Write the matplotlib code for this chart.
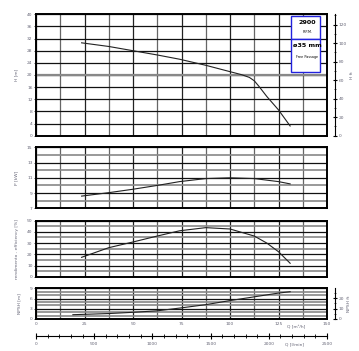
import matplotlib
matplotlib.use("Agg")
import matplotlib.pyplot as plt
import numpy as np

# curve data (Q in m3/h)
q_head = [23.5, 37.5, 50, 62.5, 74, 87.5, 100, 106, 110, 112.5, 115, 119, 125, 131]
head = [30.6, 29.4, 28.0, 26.6, 25.2, 23.2, 21.1, 20.1, 19.2, 18.1, 16.2, 12.9, 8.5, 3.2]

q_power = [23.5, 37.5, 50, 62.5, 74, 87.5, 100, 112.5, 125, 131]
power = [8.6, 9.05, 9.5, 10.0, 10.5, 10.9, 11.0, 10.9, 10.5, 10.2]

q_eff = [23.5, 37.5, 50, 62.5, 74, 87.5, 100, 112.5, 119, 125, 131]
eff = [17.3, 25.9, 31.0, 36.3, 41.0, 43.8, 42.6, 36.3, 30.0, 22.3, 12.0]

q_npsh = [19, 37.5, 50, 62.5, 74, 87.5, 100, 112.5, 125, 131]
npsh = [1.26, 1.6, 1.96, 2.4, 3.2, 4.2, 5.4, 6.5, 7.6, 8.0]

q_ticks = [0, 25, 50, 75, 100, 125, 150]
lmin_ticks = [0, 500, 1000, 1500, 2000, 2500]

M_TO_FT = 3.281
TCOL = "#666677"
FS = 3.2

fig = plt.figure(figsize=(3.59, 3.51), dpi=100)
L, W = 36 / 359, 291 / 359


def panel(y_top, y_bot, ylim, major, minor_step, ylabel, gray_extra=None):
    ax = fig.add_axes([L, 1 - y_bot / 351, W, (y_bot - y_top) / 351])
    ax.set_xlim(0, 150)
    ax.set_ylim(*ylim)
    for i, x in enumerate(np.arange(0, 150.1, 12.5)):
        ax.axvline(x, color="#222222" if i % 2 == 0 else "#666666", lw=0.9, zorder=1)
    for y in np.arange(ylim[0], ylim[1] + 0.01, minor_step):
        dark = any(abs(y - m) < 1e-6 for m in major)
        ax.axhline(y, color="#111111" if dark else "#888888", lw=0.9 if dark else 1.2, zorder=1)
    if gray_extra is not None:
        ax.axhline(gray_extra, color="#888888", lw=1.6, zorder=2)
    ax.set_yticks(major)
    ax.set_xticks(q_ticks)
    ax.tick_params(axis="x", labelbottom=False, length=0)
    ax.tick_params(axis="y", length=1.5, width=0.5, pad=1, labelsize=FS, labelcolor=TCOL)
    for s in ax.spines.values():
        s.set_linewidth(1.4)
    ax.set_ylabel(ylabel, fontsize=FS, color=TCOL, labelpad=6)
    return ax


def ft_axis(ax, top_ft, major, minor):
    axf = ax.twinx()
    axf.set_ylim(0, top_ft)
    axf.set_yticks(major)
    axf.set_yticks(minor, minor=True)
    axf.spines["right"].set_position(("outward", 6))
    for k in ["top", "left", "bottom"]:
        axf.spines[k].set_visible(False)
    axf.spines["right"].set_linewidth(0.8)
    axf.tick_params(axis="y", which="major", length=3, width=0.8, pad=1,
                    direction="inout", labelsize=FS, labelcolor=TCOL)
    axf.tick_params(axis="y", which="minor", length=2, width=0.5, direction="inout")
    return axf


ax1 = panel(14.3, 135.7, (0, 40), list(range(0, 41, 4)), 4, "H [m]", gray_extra=20)
ax1.plot(q_head, head, color="#222222", lw=0.8, zorder=3)

axf = ft_axis(ax1, 40 * M_TO_FT, [0, 20, 40, 60, 80, 100, 120], list(range(0, 131, 10)))
axf.set_ylabel("H ft", fontsize=FS, color=TCOL, labelpad=2)

# info boxes
ax1.text(0.933, 0.93, "2900", transform=ax1.transAxes, ha="center", va="center",
         fontsize=4.6, fontweight="bold", zorder=6)
ax1.text(0.933, 0.855, "R.P.M.", transform=ax1.transAxes, ha="center", va="center",
         fontsize=2.4, zorder=6)
ax1.text(0.933, 0.745, "ø35 mm", transform=ax1.transAxes, ha="center", va="center",
         fontsize=4.6, fontweight="bold", zorder=6)
ax1.text(0.933, 0.645, "Free Passage", transform=ax1.transAxes, ha="center", va="center",
         fontsize=2.4, zorder=6)
for yb, hb in [(0.80, 0.182), (0.525, 0.275)]:
    ax1.add_patch(plt.Rectangle((0.877, yb), 0.1, hb, transform=ax1.transAxes,
                                facecolor="white", edgecolor="#2222dd", lw=1.0, zorder=5))

ax2 = panel(147.3, 208.3, (7, 15), [7, 9, 11, 13, 15], 1, "P [kW]")
ax2.plot(q_power, power, color="#222222", lw=0.8, zorder=3)

ax3 = panel(220.7, 276.7, (0, 50), [0, 10, 20, 30, 40, 50], 5, "rendimento - efficiency [%]")
ax3.plot(q_eff, eff, color="#222222", lw=0.8, zorder=3)

ax4 = panel(288.3, 319, (0, 9), [0, 3, 6, 9], 1, "NPSH [m]")
ax4.plot(q_npsh, npsh, color="#222222", lw=0.8, zorder=3)
ax4.tick_params(axis="x", labelbottom=True, pad=2, labelsize=FS, labelcolor=TCOL)
ax4.annotate("Q [m³/h]", xy=(0.893, 0), xycoords="axes fraction", xytext=(0, -6),
             textcoords="offset points", ha="center", va="center", fontsize=FS, color=TCOL)

axn = ft_axis(ax4, 9 * M_TO_FT, [0, 10, 20], [0, 5, 10, 15, 20, 25])
axn.set_ylabel("NPSH ft", fontsize=FS, color=TCOL, labelpad=2)

# l/min scale
axl = fig.add_axes([L, 1 - 336 / 351, W, 0.0001])
axl.set_xlim(0, 2500)
axl.set_yticks([])
for k in ["top", "left", "right"]:
    axl.spines[k].set_visible(False)
axl.spines["bottom"].set_linewidth(0.8)
axl.set_xticks(lmin_ticks)
axl.set_xticks(range(0, 2501, 100), minor=True)
axl.tick_params(axis="x", which="major", length=4, width=0.8, direction="inout", pad=2,
                labelsize=FS, labelcolor=TCOL)
axl.tick_params(axis="x", which="minor", length=2.5, width=0.6, direction="inout")
axl.annotate("Q [l/min]", xy=(0.89, 0), xycoords="axes fraction", xytext=(0, -6),
             textcoords="offset points", ha="center", va="center", fontsize=FS, color=TCOL)

fig.savefig("out.png", dpi=100)
